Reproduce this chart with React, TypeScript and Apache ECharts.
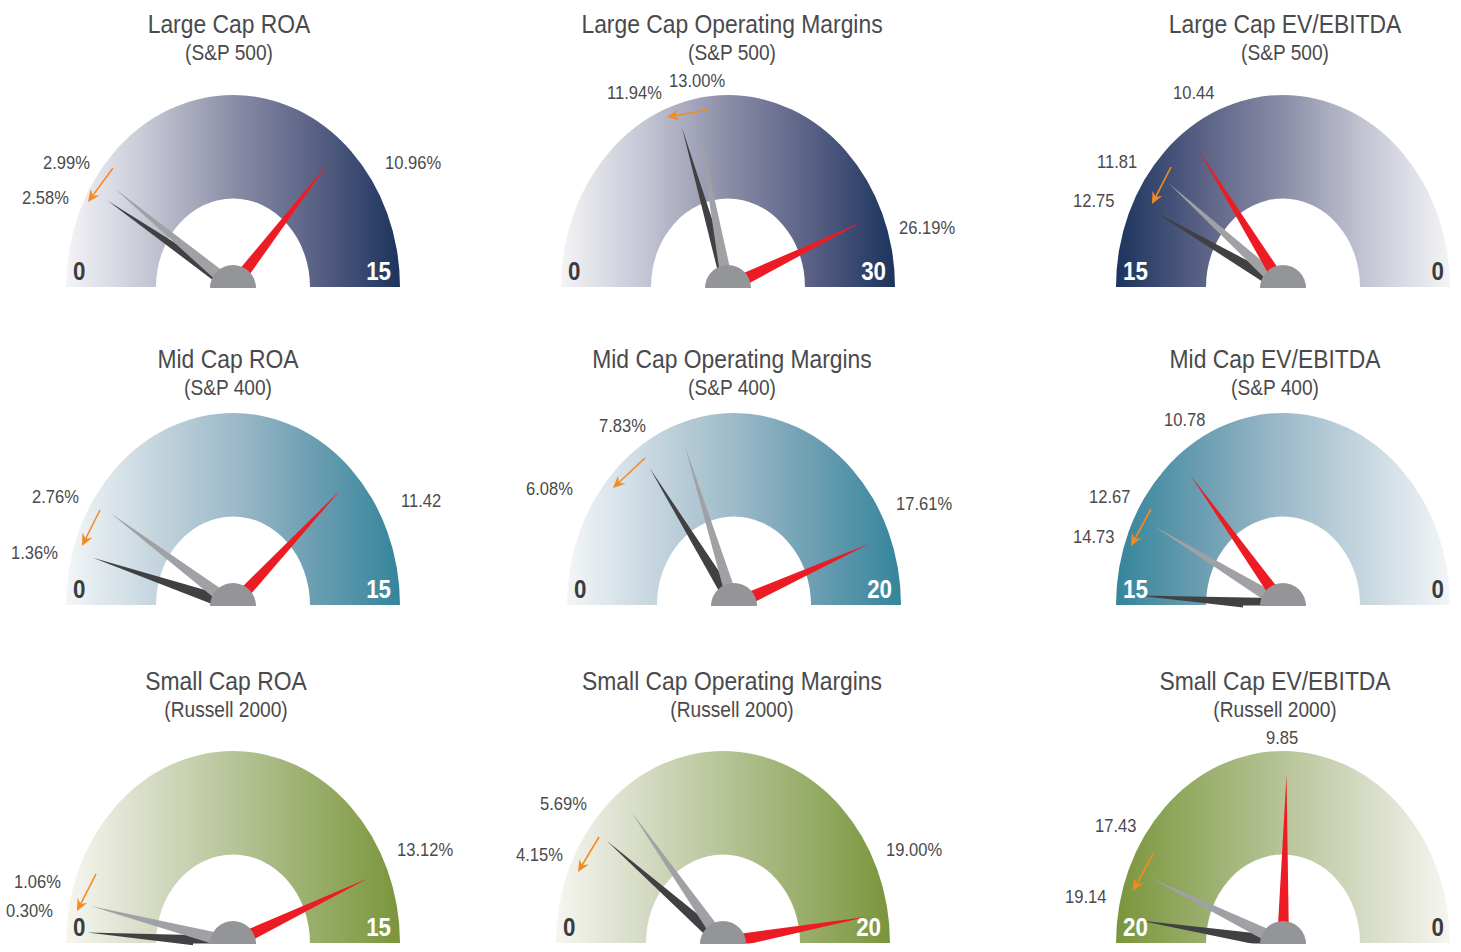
import React, { useEffect, useRef } from "react";
import * as echarts from "echarts";

// ---------------- data ----------------
const titles = [
  "Large Cap ROA", "Large Cap Operating Margins", "Large Cap EV/EBITDA",
  "Mid Cap ROA", "Mid Cap Operating Margins", "Mid Cap EV/EBITDA",
  "Small Cap ROA", "Small Cap Operating Margins", "Small Cap EV/EBITDA",
];
const subtitles = [
  "(S&P 500)", "(S&P 500)", "(S&P 500)",
  "(S&P 400)", "(S&P 400)", "(S&P 400)",
  "(Russell 2000)", "(Russell 2000)", "(Russell 2000)",
];
const gaugeMax = [15, 30, 15, 15, 20, 15, 15, 20, 20];
const reversedScale = [false, false, true, false, false, true, false, false, true];
const darkValues = [2.58, 11.94, 12.75, 1.36, 6.08, 14.73, 0.3, 4.15, 19.14];
const grayValues = [2.99, 13.0, 11.81, 2.76, 7.83, 12.67, 1.06, 5.69, 17.43];
const redValues = [10.96, 26.19, 10.44, 11.42, 17.61, 10.78, 13.12, 19.0, 9.85];
const darkSuffix = ["%", "%", "", "%", "%", "", "%", "%", ""];
const graySuffix = ["%", "%", "", "%", "%", "", "%", "%", ""];
const redSuffix = ["%", "%", "", "", "%", "", "%", "%", ""];

// ---------------- layout ----------------
const S = 1.15; // vertical stretch of the gauge layer
const LAYER_H = 828;
const OUTER_R = 167;
const BAND_W = 90;
const centersX = [233, 728, 1283, 233, 734, 1283, 233, 723, 1283];
const baselines = [287, 287, 287, 605, 605, 605, 943, 943, 943];
const titleX = [229, 732, 1285, 228, 732, 1275, 226, 732, 1275];
const titleY = [24, 24, 24, 359, 359, 359, 681, 681, 681];
// label anchor (left x, middle y)
const darkLabelPos = [[22, 198], [607, 93], [1073, 201], [11, 553], [526, 489], [1073, 537], [6, 911], [516, 855], [1065, 897]];
const grayLabelPos = [[43, 163], [669, 81], [1097, 162], [32, 497], [599, 426], [1089, 497], [14, 882], [540, 804], [1095, 826]];
const redLabelPos = [[385, 163], [899, 228], [1173, 93], [401, 501], [896, 504], [1164, 420], [397, 850], [886, 850], [1266, 738]];
// change arrows: tail -> tip
const arrowPos = [
  [113, 168, 88, 202], [708, 110, 667, 117], [1171, 167, 1152, 204],
  [100, 510, 82, 546], [645, 458, 613, 488], [1151, 509, 1131, 546],
  [96, 874, 77, 911], [599, 837, 578, 872], [1153, 854, 1133, 891],
];

const palettes = [
  ["#f4f4f7", "#c4c6d4", "#8b8da7", "#586084", "#1c345d"],
  ["#f3f6f8", "#c7d7e0", "#9dbac9", "#6a9db1", "#34859b"],
  ["#f6f6f0", "#d6dcc5", "#b7c498", "#98ad69", "#7a953c"],
];

const FONT = "'Liberation Sans', Arial, Helvetica, sans-serif";
const DARK = "#414042";
const GRAY = "#a0a1a4";
const RED = "#ed1c24";
const HUB = "#939598";
const ORANGE = "#f58a1f";
const TEXT = "#4a4a4c";

function gaugeSeries(i: number) {
  const pal = palettes[Math.floor(i / 3)];
  const n = pal.length;
  const stops = pal.map((c, k) => ({
    offset: reversedScale[i] ? 1 - k / (n - 1) : k / (n - 1),
    color: c,
  }));
  stops.sort((a, b) => a.offset - b.offset);
  return {
    type: "gauge",
    center: [centersX[i], baselines[i] / S],
    radius: OUTER_R,
    startAngle: reversedScale[i] ? 0 : 180,
    endAngle: reversedScale[i] ? 180 : 0,
    clockwise: !reversedScale[i],
    min: 0,
    max: gaugeMax[i],
    splitNumber: 1,
    silent: true,
    axisLine: {
      show: true,
      roundCap: false,
      lineStyle: {
        width: BAND_W,
        color: [[1, { type: "linear", x: 0, y: 0, x2: 1, y2: 0, colorStops: stops }]],
      },
    },
    splitLine: { show: false },
    axisTick: { show: false },
    axisLabel: { show: false },
    progress: { show: false },
    anchor: { show: false },
    title: { show: false },
    detail: { show: false },
    pointer: {
      show: true,
      icon: "path://M5,0 L10,100 L0,100 Z",
      length: 146,
      width: 12,
      offsetCenter: [0, 0],
      keepAspect: false,
    },
    data: [
      { value: darkValues[i], itemStyle: { color: DARK } },
      { value: grayValues[i], itemStyle: { color: GRAY } },
      { value: redValues[i], itemStyle: { color: RED } },
    ],
  };
}

function txt(text: string, x: number, y: number, size: number, color: string, align: string, sx: number, bold = false) {
  return {
    type: "text",
    silent: true,
    z: 20,
    x,
    y,
    scaleX: sx,
    style: {
      text,
      x: 0,
      y: 0,
      fill: color,
      fontSize: size,
      fontFamily: FONT,
      fontWeight: bold ? "bold" : "normal",
      align,
      verticalAlign: "middle",
    },
  };
}

function buildOverlay() {
  const els: any[] = [];
  for (let i = 0; i < 9; i++) {
    const cx = centersX[i];
    const by = baselines[i];
    // titles
    els.push(txt(titles[i], titleX[i], titleY[i], 26, TEXT, "center", 0.88));
    els.push(txt(subtitles[i], titleX[i], titleY[i] + 28, 22, TEXT, "center", 0.87));
    // end labels
    const maxTxt = String(gaugeMax[i]);
    if (reversedScale[i]) {
      els.push(txt(maxTxt, cx - OUTER_R + 7, by - 16, 26, "#ffffff", "left", 0.86, true));
      els.push(txt("0", cx + OUTER_R - 6, by - 16, 26, "#3c3c3e", "right", 0.86, true));
    } else {
      els.push(txt("0", cx - OUTER_R + 7, by - 16, 26, "#3c3c3e", "left", 0.86, true));
      els.push(txt(maxTxt, cx + OUTER_R - 9, by - 16, 26, "#ffffff", "right", 0.86, true));
    }
    // value labels
    els.push(txt(darkValues[i].toFixed(2) + darkSuffix[i], darkLabelPos[i][0], darkLabelPos[i][1], 18, TEXT, "left", 0.92));
    els.push(txt(grayValues[i].toFixed(2) + graySuffix[i], grayLabelPos[i][0], grayLabelPos[i][1], 18, TEXT, "left", 0.92));
    els.push(txt(redValues[i].toFixed(2) + redSuffix[i], redLabelPos[i][0], redLabelPos[i][1], 18, TEXT, "left", 0.92));
    // hub cover below baseline and hub
    els.push({
      type: "rect",
      silent: true,
      z: 10,
      shape: { x: cx - 40, y: by + 0.5, width: 80, height: 16 },
      style: { fill: "#ffffff" },
    });
    els.push({
      type: "sector",
      silent: true,
      z: 11,
      shape: { cx, cy: by + 1, r: 23, r0: 0, startAngle: Math.PI, endAngle: Math.PI * 2, clockwise: true },
      style: { fill: HUB },
    });
    // arrow
    const [x1, y1, x2, y2] = arrowPos[i];
    const len = Math.hypot(x2 - x1, y2 - y1);
    const dx = (x2 - x1) / len;
    const dy = (y2 - y1) / len;
    const nx = -dy;
    const ny = dx;
    els.push({
      type: "line",
      silent: true,
      z: 12,
      shape: { x1, y1, x2: x2 - dx * 7, y2: y2 - dy * 7 },
      style: { stroke: ORANGE, lineWidth: 1.6 },
    });
    els.push({
      type: "polygon",
      silent: true,
      z: 12,
      shape: {
        points: [
          [x2, y2],
          [x2 - dx * 12 + nx * 5.5, y2 - dy * 12 + ny * 5.5],
          [x2 - dx * 8, y2 - dy * 8],
          [x2 - dx * 12 - nx * 5.5, y2 - dy * 12 - ny * 5.5],
        ],
      },
      style: { fill: ORANGE },
    });
  }
  return els;
}

export default function App() {
  const gRef = useRef<HTMLDivElement>(null);
  const tRef = useRef<HTMLDivElement>(null);
  useEffect(() => {
    const g = echarts.init(gRef.current as HTMLDivElement, null, { renderer: "svg" });
    g.setOption({
      animation: false,
      series: titles.map((_, i) => gaugeSeries(i)),
    } as any);
    const t = echarts.init(tRef.current as HTMLDivElement, null, { renderer: "svg" });
    t.setOption({
      animation: false,
      graphic: { elements: buildOverlay() },
    } as any);
    return () => {
      g.dispose();
      t.dispose();
    };
  }, []);
  return (
    <div style={{ position: "absolute", left: 0, top: 0, width: 1461, height: 952, overflow: "hidden", background: "#ffffff" }}>
      <div
        ref={gRef}
        style={{
          position: "absolute",
          left: 0,
          top: 0,
          width: 1461,
          height: LAYER_H,
          transform: `scaleY(${S})`,
          transformOrigin: "0 0",
        }}
      />
      <div ref={tRef} style={{ position: "absolute", left: 0, top: 0, width: 1461, height: 952, pointerEvents: "none" }} />
    </div>
  );
}
